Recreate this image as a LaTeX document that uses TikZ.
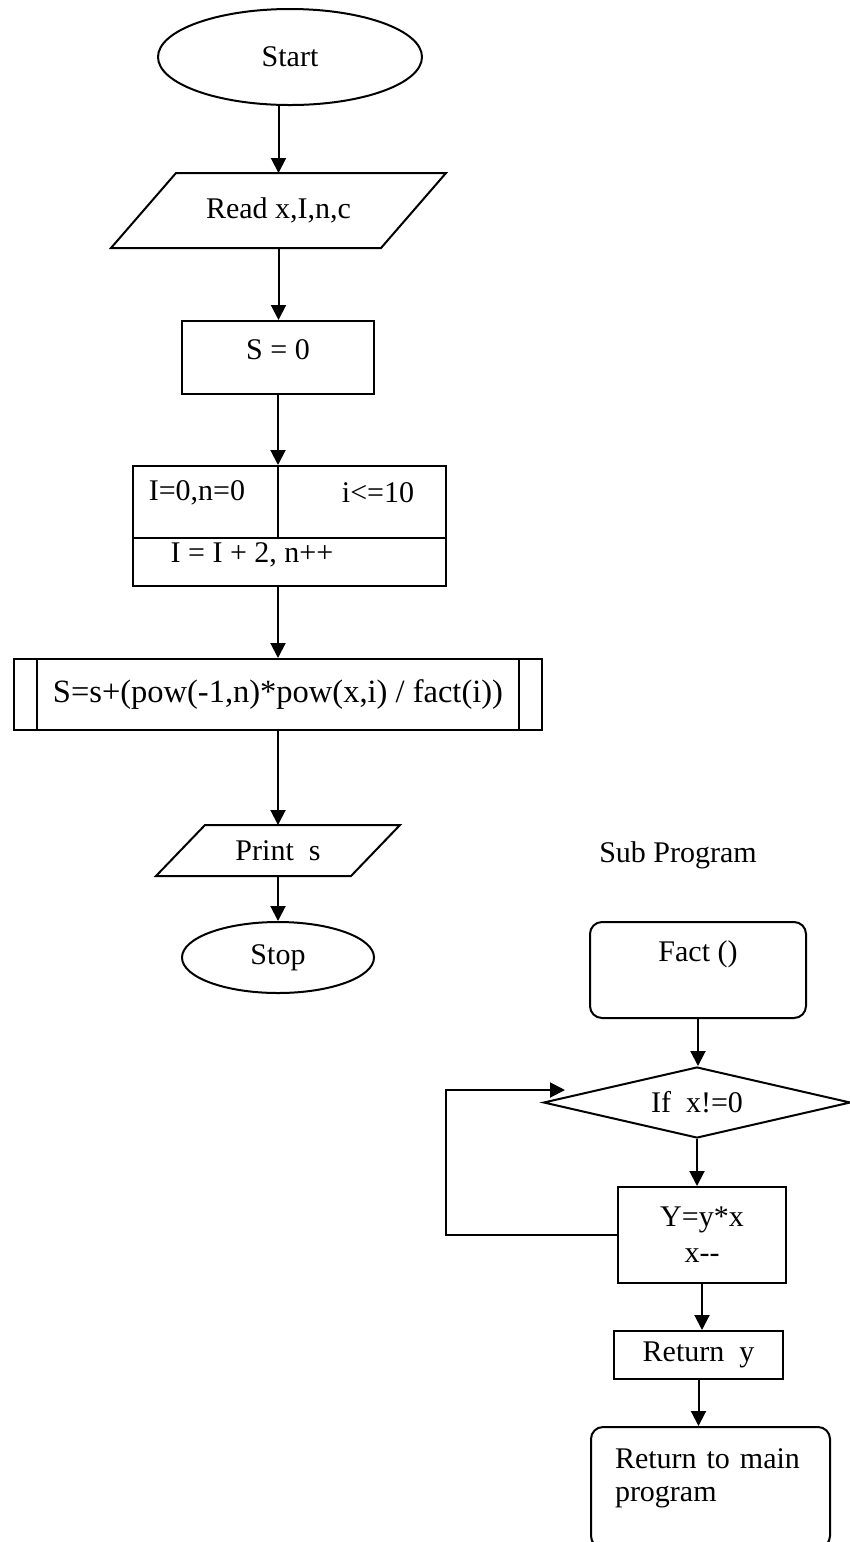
\documentclass[tikz,border=0pt]{standalone}
\usepackage{fontspec}
\setmainfont{Liberation Serif}
\usetikzlibrary{shapes.geometric,arrows.meta}

\begin{document}
\begin{tikzpicture}
      [x=0.4pt,y=-0.4pt,>={Triangle[length=6pt,width=6pt]},line width=0.8pt,
      font=\fontsize{12}{14.5}\selectfont,
      term/.style={ellipse,draw,inner sep=0pt},
      io/.style={rectangle,inner sep=0pt},
      box/.style={rectangle,draw,inner sep=0pt},
      sub box/.style={rectangle,rounded corners=4.8pt,draw,inner sep=0pt},
      test/.style={diamond,draw,inner sep=0pt,shape aspect=4.3}]
  \clip (0,0) rectangle (850,1542);
  % main program
  \node[term,minimum width=105.6pt,minimum height=38.4pt] (start) at (290,57) {Start};
  \node[io,minimum width=133.2pt,minimum height=29.2pt] (rd) at (278.5,210.5) {Read x,I,n,c};
  \node[box,minimum width=76.8pt,minimum height=29.2pt,
        text height=8pt,text depth=6.8pt] (s0) at (278,357.5) {S = 0\hspace{6.4pt}};
  \node[box,minimum width=125.2pt,minimum height=48pt] (loop) at (289.5,526) {};
  \node (init) at (197,493) {I=0,n=0};
  \node (limit) at (378,493) {i<=10};
  \node (incr) at (252,555) {I = I + 2, n++};
  \node[box,minimum width=211.4pt,minimum height=28.4pt,
        font=\fontsize{13}{15}\selectfont] (calc) at (278,694.5)
        {S=s+(pow(-1,n)*pow(x,i) / fact(i))};
  \node[io,minimum width=96.8pt,minimum height=19.6pt] (prt) at (278,850.5) {Print\ \ s\hspace{14.4pt}};
  \node[term,minimum width=76.8pt,minimum height=28.4pt] (stop) at (278,957.5) {Stop};

  % parallelograms, loop box and sub process lines
  \draw ([xshift=26pt]rd.north west) -- (rd.north east)
     -- ([xshift=-26pt]rd.south east) -- (rd.south west) -- cycle;
  \draw ([xshift=19.6pt]prt.north west) -- (prt.north east)
     -- ([xshift=-19.6pt]prt.south east) -- (prt.south west) -- cycle;
  \draw ([yshift=-4.8pt]loop.west) -- ([yshift=-4.8pt]loop.east);
  \draw (loop.north -| s0.south) -- ([yshift=-4.8pt]loop.west -| s0.south);
  \draw ([xshift=9.8pt]calc.north west) -- ([xshift=9.8pt]calc.south west);
  \draw ([xshift=-9.6pt]calc.north east) -- ([xshift=-9.6pt]calc.south east);

  \path[->] (start.south -| rd.north) edge (rd.north);
  \path[->] (rd.south) edge (rd.south |- s0.north);
  \path[->] (s0.south) edge (s0.south |- loop.north);
  \path[->] (loop.south -| calc.north) edge (calc.north);
  \path[->] (calc.south) edge (calc.south |- prt.north);
  \path[->] (prt.south) edge (prt.south |- stop.north);

  % sub program
  \node (sub) at (678,855) {Sub Program};
  \node[sub box,minimum width=86.4pt,minimum height=38.4pt,
        text height=8.6pt,text depth=15.4pt] (fact) at (698,970) {Fact ()\hspace{8.8pt}};
  \node[test,minimum width=122.8pt,minimum height=28.4pt] (chk) at (697,1102.5) {If\ \ x!=0\hspace{17.6pt}};
  \node[box,minimum width=67.2pt,minimum height=38.4pt,align=center] (body) at (702,1235) {Y=y*x\\x-{}-};
  \node[box,minimum width=67.6pt,minimum height=19.2pt] (ret) at (698.5,1355) {Return\ \ y\hspace{12.4pt}};
  \node[sub box,minimum width=95.6pt,minimum height=48.4pt,inner xsep=9.6pt,
        text width=76.4pt,align=left,font=\fontsize{12}{13.2}\selectfont,
        text height=8.5pt,text depth=24pt] (back) at (710.5,1487.5) {Return to main\\program};
  \coordinate (turn) at (446,1090);
  \coordinate (tip) at (565,1090);

  \path[->] (fact.south) edge (fact.south |- chk.north);
  \path[->] (chk.south) edge (chk.south |- body.north);
  \path[->] (body.south) edge (body.south |- ret.north);
  \path[->] (ret.south) edge (ret.south |- back.north);
  \draw[->] (body.west) -| (turn) -- (tip);
\end{tikzpicture}
\end{document}
